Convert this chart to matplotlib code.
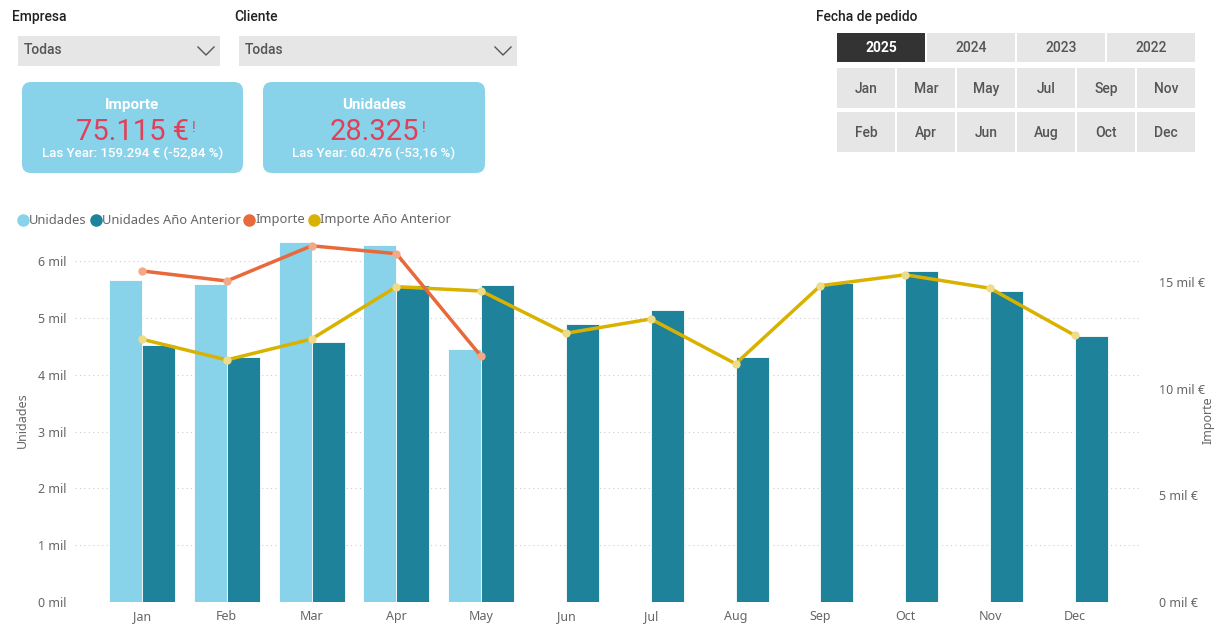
import numpy as np
import matplotlib
matplotlib.use('Agg')
import matplotlib.pyplot as plt
from matplotlib.patches import FancyBboxPatch, Rectangle

W, H = 1224, 632

# ── data ────────────────────────────────────────────────────────────────
MONTHS = ['Jan', 'Feb', 'Mar', 'Apr', 'May', 'Jun',
          'Jul', 'Aug', 'Sep', 'Oct', 'Nov', 'Dec']
unidades = [5660, 5600, 6330, 6290, 4445]
unidades_prev = [4530, 4310, 4575, 5580, 5580, 4900,
                 5140, 4310, 5620, 5820, 5470, 4680]
importe = [15520, 15050, 16700, 16330, 11515]
importe_prev = [12320, 11350, 12330, 14780, 14580, 12600,
                13270, 11170, 14830, 15340, 14710, 12500]

left_ticks = [0, 1000, 2000, 3000, 4000, 5000, 6000]
right_ticks = [0, 5000, 10000, 15000]

YEARS = ['2025', '2024', '2023', '2022']
GRID_MONTHS = [['Jan', 'Mar', 'May', 'Jul', 'Sep', 'Nov'],
               ['Feb', 'Apr', 'Jun', 'Aug', 'Oct', 'Dec']]

# ── colours ─────────────────────────────────────────────────────────────
C_LIGHT = '#89D3EA'
C_DARK = '#1E829A'
C_ORANGE = '#E8693A'
C_YELLOW = '#D9B200'
C_RED = '#E0405A'
C_TEXT = '#666666'
C_SLICER = '#E6E6E6'

FONT_UI = ['Noto Sans', 'DejaVu Sans']
FONT_DIN = ['Roboto', 'DejaVu Sans']

fig = plt.figure(figsize=(W / 100, H / 100), dpi=100)
fig.patch.set_facecolor('white')

# overlay in pixel coordinates for the dashboard elements
ov = fig.add_axes([0, 0, 1, 1])
ov.set_xlim(0, W)
ov.set_ylim(H, 0)
ov.axis('off')


def right_px(t):
    fig.canvas.draw()
    return t.get_window_extent().x1 * W / fig.bbox.width


# ── slicers ─────────────────────────────────────────────────────────────
def dropdown(x0, x1, label, lx):
    ov.text(lx, 17, label, fontsize=10, family=FONT_DIN, fontweight=500,
            color='#222222', va='center', ha='left')
    ov.add_patch(Rectangle((x0, 36), x1 - x0, 30, color=C_SLICER, lw=0))
    ov.text(x0 + 6, 50, 'Todas', fontsize=10, family=FONT_DIN, fontweight=500,
            color='#555555', va='center', ha='left')
    cx = x1 - 14
    ov.plot([cx - 8, cx, cx + 8], [47, 55, 47], color='#555555', lw=1.0)


dropdown(18, 220, 'Empresa', 12)
dropdown(239, 517, 'Cliente', 234)

ov.text(816, 17, 'Fecha de pedido', fontsize=10, family=FONT_DIN,
        fontweight=500, color='#222222', va='center', ha='left')
for i, yr in enumerate(YEARS):
    x0 = 837 + i * 90
    sel = i == 0
    ov.add_patch(Rectangle((x0, 33), 88, 29,
                           color='#333333' if sel else C_SLICER, lw=0))
    ov.text(x0 + 44, 48, yr, fontsize=10, family=FONT_DIN,
            fontweight='bold' if sel else 500,
            color='white' if sel else '#555555', ha='center', va='center')
for r, row in enumerate(GRID_MONTHS):
    y0 = 68 + r * 44
    for c, m in enumerate(row):
        x0 = 837 + c * 60
        ov.add_patch(Rectangle((x0, y0), 58, 40, color=C_SLICER, lw=0))
        ov.text(x0 + 29, y0 + 21, m, fontsize=10, family=FONT_DIN,
                fontweight=500, color='#555555', ha='center', va='center')


# ── KPI cards ───────────────────────────────────────────────────────────
def card(x0, x1, title, value, sub):
    ov.add_patch(FancyBboxPatch((x0, 82), x1 - x0, 91,
                                boxstyle='round,pad=0,rounding_size=9',
                                color=C_LIGHT, lw=0))
    cx = (x0 + x1) / 2
    ov.text(cx, 105, title, fontsize=11, family=FONT_DIN, fontweight='bold',
            color='white', ha='center', va='center')
    t = ov.text(cx, 132, value, fontsize=21, family=FONT_DIN,
                color=C_RED, ha='center', va='center')
    ov.text(right_px(t) + 3, 128, '!', fontsize=10, family=FONT_DIN,
            color=C_RED, ha='left', va='center')
    ov.text(cx, 153, sub, fontsize=9.5, family=FONT_DIN, fontweight=500,
            color='white', ha='center', va='center')


card(22, 243, 'Importe', '75.115 €', 'Las Year: 159.294 € (-52,84 %)')
card(263, 485, 'Unidades', '28.325', 'Las Year: 60.476 (-53,16 %)')

# ── legend ──────────────────────────────────────────────────────────────
legend_items = [('Unidades', C_LIGHT), ('Unidades Año Anterior', C_DARK),
                ('Importe', C_ORANGE), ('Importe Año Anterior', C_YELLOW)]
lx = 17
for name, col in legend_items:
    ov.plot(lx + 6, 220, 'o', ms=8, color=col)
    t = ov.text(lx + 12, 220, name, fontsize=9.3, family=FONT_UI,
                color=C_TEXT, ha='left', va='center')
    lx = right_px(t) + 3

# ── main chart ──────────────────────────────────────────────────────────
px_left, px_right, px_bottom, px_top = 75, 1140, 602, 238.3
ax = fig.add_axes([px_left / W, (H - px_bottom) / H,
                   (px_right - px_left) / W, (px_bottom - px_top) / H])
ax.patch.set_alpha(0)

step = 84.8
x = np.arange(len(MONTHS))
bw = 33 / step
ax.bar(x[:len(unidades)] - bw / 2, unidades, bw, color=C_LIGHT,
       edgecolor='white', linewidth=0.6, zorder=2)
ax.bar(x + bw / 2, unidades_prev, bw, color=C_DARK,
       edgecolor='white', linewidth=0.6, zorder=2)

ymax_left = 6400
ax.set_ylim(0, ymax_left)
ax.set_xlim((px_left - 142) / step, (px_right - 142) / step)
ax.set_yticks(left_ticks)
ax.set_yticklabels([f'{v // 1000} mil' for v in left_ticks])
ax.set_xticks(x)
ax.set_xticklabels(MONTHS)
ax.tick_params(length=0, labelsize=9, labelcolor=C_TEXT, pad=6)
for lab in ax.get_xticklabels() + ax.get_yticklabels():
    lab.set_family(FONT_UI)
ax.yaxis.grid(True, color='#CCCCCC', linestyle=(0, (1, 3)), linewidth=0.8)
ax.set_axisbelow(True)
for s in ax.spines.values():
    s.set_visible(False)
ax.set_ylabel('Unidades', fontsize=9, color=C_TEXT, family=FONT_UI)
ax.yaxis.set_label_coords((29 - px_left) / (px_right - px_left), 0.5)

ax2 = ax.twinx()
ax2.set_ylim(0, ymax_left * (56.83 / 21.33))
ax2.plot(x, importe_prev, color=C_YELLOW, lw=2.5, zorder=3)
ax2.plot(x, importe_prev, 'o', ms=5, color='#EEDC8A', zorder=4)
ax2.plot(x[:len(importe)], importe, color=C_ORANGE, lw=2.5, zorder=3)
ax2.plot(x[:len(importe)], importe, 'o', ms=5, color='#F2A98A', zorder=4)
ax2.set_yticks(right_ticks)
ax2.set_yticklabels([f'{v // 1000} mil €' for v in right_ticks])
ax2.tick_params(length=0, labelsize=9, labelcolor=C_TEXT, pad=14)
for lab in ax2.get_yticklabels():
    lab.set_family(FONT_UI)
for s in ax2.spines.values():
    s.set_visible(False)
ax2.set_ylabel('Importe', fontsize=9, color=C_TEXT, family=FONT_UI)
ax2.yaxis.set_label_coords((1202 - px_left) / (px_right - px_left), 0.5)

fig.savefig('out.png', dpi=100, facecolor='white')
